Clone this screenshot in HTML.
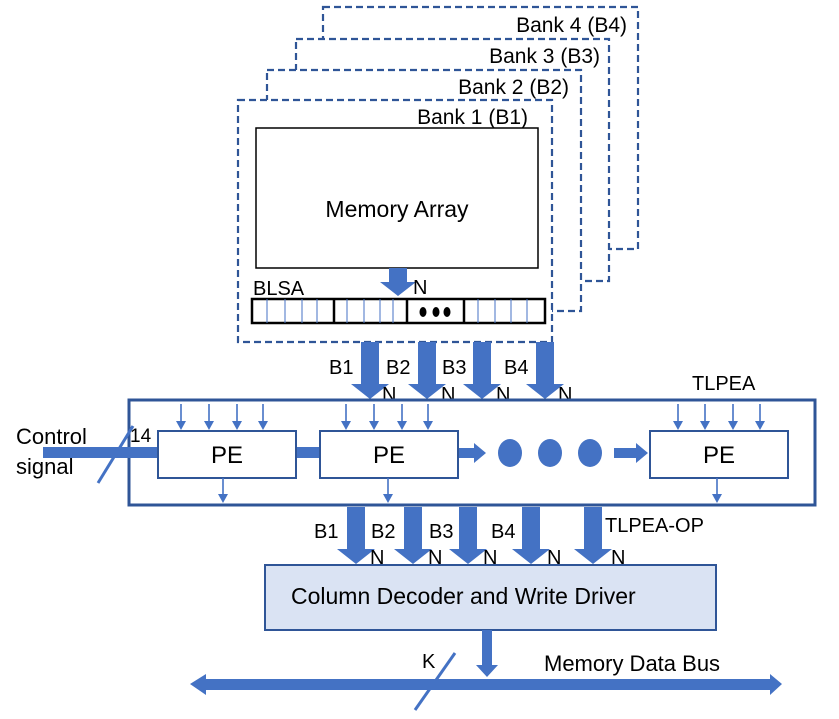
<!DOCTYPE html>
<html><head><meta charset="utf-8"><style>
html,body{margin:0;padding:0;background:#fff;}
svg text{font-family:"Liberation Sans",sans-serif;fill:#000;}
</style></head><body>
<svg width="839" height="714" viewBox="0 0 839 714" xmlns="http://www.w3.org/2000/svg">
<defs>
<g id="da"><polygon points="-9,0 9,0 9,42 19,42 0,57 -19,42 -9,42" fill="#4472c4"/></g>
<marker id="sm" markerWidth="10" markerHeight="10" refX="7" refY="5" orient="auto" markerUnits="userSpaceOnUse"><polygon points="0,0 9,5 0,10" fill="#4472c4"/></marker>
</defs>
<g fill="#fff" stroke="#2f5597" stroke-width="2.2" stroke-dasharray="7,4">
<rect x="323" y="7" width="315" height="242"/>
<rect x="296" y="39" width="313" height="242"/>
<rect x="267" y="70" width="314" height="241"/>
<rect x="238" y="100" width="314" height="242"/>
</g>
<g font-size="21">
<text x="627" y="32" text-anchor="end">Bank 4 (B4)</text>
<text x="600" y="63" text-anchor="end">Bank 3 (B3)</text>
<text x="569" y="94" text-anchor="end">Bank 2 (B2)</text>
<text x="528" y="124" text-anchor="end">Bank 1 (B1)</text>
</g>
<rect x="256" y="128" width="282" height="140" fill="#fff" stroke="#000" stroke-width="1.5"/>
<text x="397" y="217" font-size="23" text-anchor="middle">Memory Array</text>
<polygon points="389,268 407,268 407,282 416,282 398,296 380,282 389,282" fill="#4472c4"/>
<text x="253" y="295" font-size="20">BLSA</text>
<text x="413" y="294" font-size="20">N</text>
<rect x="252" y="299" width="293" height="24" fill="#fff" stroke="#000" stroke-width="2.5"/>
<g stroke="#000" stroke-width="2.5"><line x1="334" y1="299" x2="334" y2="323"/><line x1="407" y1="299" x2="407" y2="323"/><line x1="464" y1="299" x2="464" y2="323"/></g>
<g stroke="#4472c4" stroke-width="1">
<line x1="267" y1="299" x2="267" y2="323"/><line x1="285" y1="299" x2="285" y2="323"/><line x1="302" y1="299" x2="302" y2="323"/><line x1="317" y1="299" x2="317" y2="323"/>
<line x1="347" y1="299" x2="347" y2="323"/><line x1="364" y1="299" x2="364" y2="323"/><line x1="380" y1="299" x2="380" y2="323"/><line x1="393" y1="299" x2="393" y2="323"/>
<line x1="478" y1="299" x2="478" y2="323"/><line x1="495" y1="299" x2="495" y2="323"/><line x1="511" y1="299" x2="511" y2="323"/><line x1="527" y1="299" x2="527" y2="323"/>
</g>
<g fill="#000"><ellipse cx="423" cy="312" rx="3.5" ry="5"/><ellipse cx="436" cy="312" rx="3.5" ry="5"/><ellipse cx="447" cy="312" rx="3.5" ry="5"/></g>
<use href="#da" x="370" y="342"/><use href="#da" x="427" y="342"/><use href="#da" x="482" y="342"/><use href="#da" x="545" y="342"/>
<g font-size="20">
<text x="329" y="374">B1</text><text x="386" y="374">B2</text><text x="442" y="374">B3</text><text x="504" y="374">B4</text>
<text x="382" y="401">N</text><text x="441" y="401">N</text><text x="496" y="401">N</text><text x="558" y="401">N</text>
<text x="692" y="390">TLPEA</text>
</g>
<rect x="129" y="400" width="686" height="105" fill="none" stroke="#2f5597" stroke-width="3"/>
<rect x="43" y="447" width="115" height="11" fill="#4472c4"/>
<line x1="98" y1="483" x2="133" y2="426" stroke="#4472c4" stroke-width="3"/>
<text x="16" y="444" font-size="22">Control</text>
<text x="16" y="474" font-size="22">signal</text>
<text x="130" y="442" font-size="19">14</text>
<rect x="296" y="447" width="24" height="11" fill="#4472c4"/>
<polygon points="458,448 474,448 474,443 486,453 474,463 474,458 458,458" fill="#4472c4"/>
<polygon points="614,448 636,448 636,443 648,453 636,463 636,458 614,458" fill="#4472c4"/>
<g fill="#4472c4"><ellipse cx="510" cy="453" rx="12" ry="14"/><ellipse cx="550" cy="453" rx="12" ry="14"/><ellipse cx="590" cy="453" rx="12" ry="14"/></g>
<g fill="#fff" stroke="#2f5597" stroke-width="2">
<rect x="158" y="431" width="138" height="47"/><rect x="320" y="431" width="138" height="47"/><rect x="650" y="431" width="138" height="47"/>
</g>
<g font-size="24" text-anchor="middle"><text x="227" y="463">PE</text><text x="389" y="463">PE</text><text x="719" y="463">PE</text></g>
<g stroke="#4472c4" stroke-width="1.6" marker-end="url(#sm)">
<line x1="181" y1="404" x2="181" y2="428"/><line x1="209" y1="404" x2="209" y2="428"/><line x1="237" y1="404" x2="237" y2="428"/><line x1="263" y1="404" x2="263" y2="428"/>
<line x1="346" y1="404" x2="346" y2="428"/><line x1="374" y1="404" x2="374" y2="428"/><line x1="402" y1="404" x2="402" y2="428"/><line x1="428" y1="404" x2="428" y2="428"/>
<line x1="678" y1="404" x2="678" y2="428"/><line x1="705" y1="404" x2="705" y2="428"/><line x1="733" y1="404" x2="733" y2="428"/><line x1="760" y1="404" x2="760" y2="428"/>
<line x1="223" y1="478" x2="223" y2="501"/><line x1="388" y1="478" x2="388" y2="501"/><line x1="717" y1="478" x2="717" y2="501"/>
</g>
<use href="#da" x="356" y="507"/><use href="#da" x="413" y="507"/><use href="#da" x="468" y="507"/><use href="#da" x="531" y="507"/><use href="#da" x="593" y="507"/>
<g font-size="20">
<text x="314" y="538">B1</text><text x="371" y="538">B2</text><text x="429" y="538">B3</text><text x="491" y="538">B4</text><text x="605" y="532">TLPEA-OP</text>
<text x="370" y="564">N</text><text x="428" y="564">N</text><text x="483" y="564">N</text><text x="547" y="564">N</text><text x="611" y="564">N</text>
</g>
<rect x="265" y="565" width="451" height="65" fill="#dae3f3" stroke="#2f5597" stroke-width="2"/>
<text x="291" y="604" font-size="23">Column Decoder and Write Driver</text>
<polygon points="482,630 492,630 492,665 498,665 487,677 476,665 482,665" fill="#4472c4"/>
<polygon points="190,684 206,674 206,679 770,679 770,674 782,684 770,695 770,690 206,690 206,695" fill="#4472c4"/>
<line x1="415" y1="710" x2="455" y2="653" stroke="#4472c4" stroke-width="3"/>
<text x="422" y="668" font-size="20">K</text>
<text x="544" y="671" font-size="22">Memory Data Bus</text>
</svg>
</body></html>
